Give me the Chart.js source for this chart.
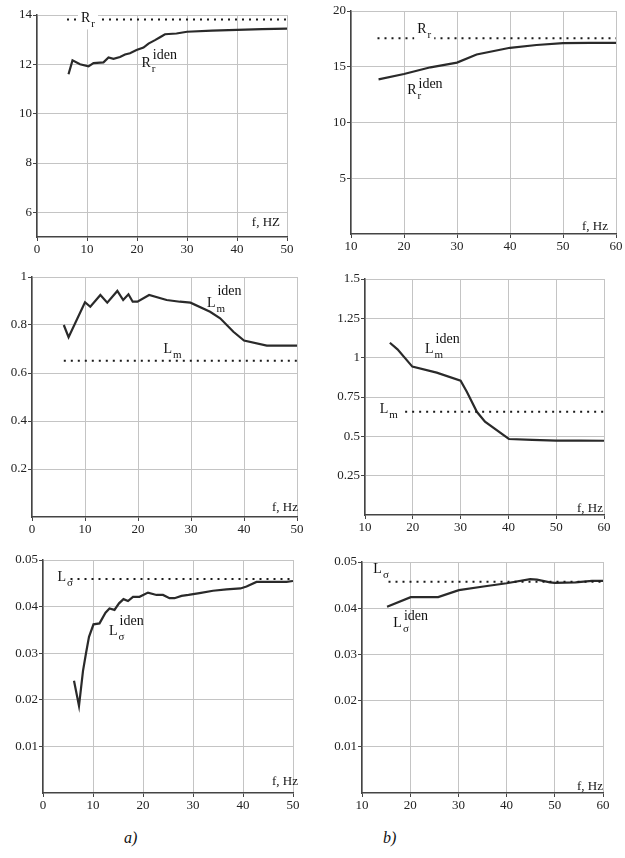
<!DOCTYPE html>
<html>
<head>
<meta charset="utf-8">
<script src="https://cdn.jsdelivr.net/npm/chart.js@4.4.0/dist/chart.umd.min.js"></script>
<style>
  html, body { margin: 0; padding: 0; background: #fff; overflow: hidden; }
  body { width: 625px; height: 858px; position: relative; }
  canvas { position: absolute; }
  .cap { position: absolute; font: italic 16px 'Liberation Serif', serif; color: #111; }
</style>
</head>
<body>
<canvas id="c1"></canvas>
<canvas id="c2"></canvas>
<canvas id="c3"></canvas>
<canvas id="c4"></canvas>
<canvas id="c5"></canvas>
<canvas id="c6"></canvas>
<div class="cap" style="left:124px; top:829px">a)</div>
<div class="cap" style="left:383px; top:829px">b)</div>
<script>
// ---- data ----
// a) R_r
const freqA_R = [6.3, 7.1, 8.6, 10.3, 11.3, 13.3, 14.3, 15.3, 16.6, 17.6, 18.6, 19.9, 21.3, 22.3, 23.6, 24.6, 25.6, 27.9, 30, 35, 40, 45, 50];
const rrIdenA = [11.6, 12.16, 12.0, 11.92, 12.05, 12.08, 12.28, 12.22, 12.3, 12.4, 12.45, 12.58, 12.68, 12.84, 12.98, 13.1, 13.22, 13.25, 13.32, 13.37, 13.4, 13.43, 13.45];
const rrRefA = 13.82;
// b) R_r
const freqB_R = [15.2, 20, 25, 30, 33.7, 40, 45, 50, 55, 60];
const rrIdenB = [13.87, 14.35, 14.95, 15.37, 16.1, 16.7, 16.95, 17.12, 17.15, 17.15];
const rrRefB = 17.55;
// a) L_m
const freqA_Lm = [6, 6.9, 10, 11, 12.9, 14.2, 16.1, 17.2, 18.2, 19, 19.9, 22.1, 25.4, 27.9, 29.9, 33.6, 35.5, 38, 40, 44.3, 50];
const lmIdenA = [0.80, 0.749, 0.895, 0.876, 0.925, 0.893, 0.942, 0.904, 0.928, 0.897, 0.897, 0.925, 0.904, 0.897, 0.893, 0.855, 0.828, 0.772, 0.735, 0.714, 0.714];
const lmRefA = 0.651;
// b) L_m
const freqB_Lm = [15.2, 16.8, 19.9, 25, 30, 31.3, 33.4, 35.1, 40.1, 45, 50, 55, 60];
const lmIdenB = [1.095, 1.053, 0.943, 0.905, 0.854, 0.784, 0.656, 0.593, 0.483, 0.477, 0.473, 0.473, 0.472];
const lmRefB = 0.656;
// a) L_sigma
const freqA_Ls = [6.2, 7.2, 8, 8.6, 9.2, 10.1, 11.3, 12.5, 13.3, 14.3, 15.2, 16.1, 17, 18, 19.3, 21, 22.7, 24, 25.3, 26.3, 27.7, 29.1, 31.3, 34, 36.7, 39.5, 40.7, 42.7, 48.7, 50];
const lsIdenA = [0.0241, 0.0187, 0.0262, 0.0300, 0.0335, 0.0362, 0.0364, 0.0387, 0.0396, 0.0393, 0.0407, 0.0416, 0.0412, 0.0421, 0.0421, 0.043, 0.0425, 0.0425, 0.0418, 0.0418, 0.0423, 0.0425, 0.0429, 0.0434, 0.0437, 0.0439, 0.0443, 0.0453, 0.0453, 0.0455];
const lsRefA = 0.0459;
// b) L_sigma
const freqB_Ls = [15.2, 20.1, 25.8, 30.1, 35.2, 40, 44.9, 46.3, 49, 50, 54.3, 57.7, 60];
const lsIdenB = [0.0403, 0.0424, 0.0424, 0.0439, 0.0447, 0.0454, 0.0463, 0.0462, 0.0456, 0.0455, 0.0456, 0.0459, 0.0459];
const lsRefB = 0.0457;

// tick labels
const xTicksA = [0, 10, 20, 30, 40, 50];
const xTicksB = [10, 20, 30, 40, 50, 60];
const yTicksRa = [6, 8, 10, 12, 14];
const yTicksRb = [5, 10, 15, 20];
const yTicksLmA = [0.2, 0.4, 0.6, 0.8, 1];
const yTicksLmB = [0.25, 0.5, 0.75, 1, 1.25, 1.5];
const yTicksLs = [0.01, 0.02, 0.03, 0.04, 0.05];

const AXIS_W = 30, AXIS_H = 22, PAD_T = 10, PAD_R = 12;
const SERIF = '"Liberation Serif", "Times New Roman", serif';

function pts(xs, ys) {
  return xs.map((x, i) => ({ x: x, y: ys[i] }));
}

// draws the curve names (base letter, subscript, superscript) and the f, Hz label
const notes = {
  id: 'notes',
  afterDatasetsDraw(chart, args, opts) {
    const ctx = chart.ctx, xs = chart.scales.x, ys = chart.scales.y;
    ctx.save();
    ctx.textBaseline = 'alphabetic';
    ctx.textAlign = 'left';
    (opts.items || []).forEach(it => {
      const px = xs.getPixelForValue(it.x), py = ys.getPixelForValue(it.y);
      ctx.font = '14px ' + SERIF;
      const bw = ctx.measureText(it.base).width;
      ctx.font = '11px ' + SERIF;
      const sw = ctx.measureText(it.sub).width;
      if (it.clear) {
        ctx.fillStyle = '#fff';
        ctx.fillRect(px - 3, py - 11, bw + sw + 7, 18);
      }
      ctx.fillStyle = '#111';
      ctx.font = '14px ' + SERIF;
      ctx.fillText(it.base, px, py);
      ctx.font = '11px ' + SERIF;
      ctx.fillText(it.sub, px + bw + 1, py + 5);
      if (it.sup) {
        ctx.font = '14px ' + SERIF;
        ctx.fillText(it.sup, px + bw + 2, py - (it.rise || 8));
      }
    });
    ctx.fillStyle = '#111';
    ctx.font = '13px ' + SERIF;
    ctx.textAlign = 'right';
    ctx.fillText(opts.unit, chart.chartArea.right + opts.unitDx, chart.chartArea.bottom - opts.unitDy);
    ctx.restore();
  }
};

function makePanel(id, box, xr, yr, xTicks, yTicks, iden, ref, notesOpts) {
  const canvas = document.getElementById(id);
  const w = box.right - box.left + AXIS_W + PAD_R;
  const h = box.bottom - box.top + PAD_T + AXIS_H;
  canvas.width = w;
  canvas.height = h;
  canvas.style.width = w + 'px';
  canvas.style.height = h + 'px';
  canvas.style.left = (box.left - AXIS_W) + 'px';
  canvas.style.top = (box.top - PAD_T) + 'px';

  const axisFont = { family: SERIF, size: 13 };
  new Chart(canvas, {
    type: 'line',
    data: {
      datasets: [
        {
          data: ref,
          borderColor: '#1a1a1a',
          borderWidth: 2,
          borderDash: [2, 5],
          pointRadius: 0,
          tension: 0
        },
        {
          data: iden,
          borderColor: '#2a2a2a',
          borderWidth: 2.2,
          pointRadius: 0,
          tension: 0
        }
      ]
    },
    options: {
      responsive: false,
      animation: false,
      devicePixelRatio: 1,
      layout: { padding: { left: 0, top: PAD_T, right: PAD_R, bottom: 0 } },
      plugins: {
        legend: { display: false },
        tooltip: { enabled: false },
        notes: notesOpts
      },
      scales: {
        x: {
          type: 'linear',
          min: xr[0],
          max: xr[1],
          afterBuildTicks: s => { s.ticks = xTicks.map(v => ({ value: v })); },
          afterFit: s => { s.height = AXIS_H; },
          grid: { color: '#c4c4c4', lineWidth: 1, tickColor: '#444', tickLength: 4 },
          border: { color: '#444', width: 1.5 },
          ticks: { font: axisFont, color: '#222', padding: 1, maxRotation: 0, autoSkip: false, callback: v => String(v) }
        },
        y: {
          type: 'linear',
          min: yr[0],
          max: yr[1],
          afterBuildTicks: s => { s.ticks = yTicks.map(v => ({ value: v })); },
          afterFit: s => { s.width = AXIS_W; },
          grid: { color: '#c4c4c4', lineWidth: 1, tickColor: '#444', tickLength: 4 },
          border: { color: '#444', width: 1.5 },
          ticks: { font: axisFont, color: '#222', padding: 1, autoSkip: false, callback: v => String(v) }
        }
      }
    },
    plugins: [notes]
  });
}

makePanel('c1', { left: 37, right: 287, top: 15, bottom: 237 }, [0, 50], [5, 14], xTicksA, yTicksRa,
  pts(freqA_R, rrIdenA), pts([6, 50], [rrRefA, rrRefA]),
  { items: [
      { x: 8.8, y: 13.70, base: 'R', sub: 'r', clear: true },
      { x: 20.9, y: 11.88, base: 'R', sub: 'r', sup: 'iden', rise: 8 }
    ], unit: 'f, HZ', unitDx: -7, unitDy: 11 });

makePanel('c2', { left: 351, right: 616, top: 11, bottom: 234 }, [10, 60], [0, 20], xTicksB, yTicksRb,
  pts(freqB_R, rrIdenB), pts([15, 60], [rrRefB, rrRefB]),
  { items: [
      { x: 22.5, y: 18.0, base: 'R', sub: 'r', clear: true },
      { x: 20.6, y: 12.53, base: 'R', sub: 'r', sup: 'iden', rise: 6 }
    ], unit: 'f, Hz', unitDx: -8, unitDy: 4 });

makePanel('c3', { left: 32, right: 297, top: 277, bottom: 517 }, [0, 50], [0, 1], xTicksA, yTicksLmA,
  pts(freqA_Lm, lmIdenA), pts([6, 50], [lmRefA, lmRefA]),
  { items: [
      { x: 24.8, y: 0.682, base: 'L', sub: 'm' },
      { x: 33.0, y: 0.876, base: 'L', sub: 'm', sup: 'iden', rise: 12 }
    ], unit: 'f, Hz', unitDx: 1, unitDy: 6 });

makePanel('c4', { left: 365, right: 604, top: 279, bottom: 515 }, [10, 60], [0, 1.5], xTicksB, yTicksLmB,
  pts(freqB_Lm, lmIdenB), pts([18.4, 60], [lmRefB, lmRefB]),
  { items: [
      { x: 13.1, y: 0.646, base: 'L', sub: 'm' },
      { x: 22.55, y: 1.028, base: 'L', sub: 'm', sup: 'iden', rise: 10 }
    ], unit: 'f, Hz', unitDx: -1, unitDy: 3 });

makePanel('c5', { left: 43, right: 293, top: 560, bottom: 793 }, [0, 50], [0, 0.05], xTicksA, yTicksLs,
  pts(freqA_Ls, lsIdenA), pts([5.5, 50], [lsRefA, lsRefA]),
  { items: [
      { x: 2.9, y: 0.04556, base: 'L', sub: 'σ' },
      { x: 13.2, y: 0.0339, base: 'L', sub: 'σ', sup: 'iden', rise: 10 }
    ], unit: 'f, Hz', unitDx: 5, unitDy: 8 });

makePanel('c6', { left: 362, right: 603, top: 562, bottom: 793 }, [10, 60], [0, 0.05], xTicksB, yTicksLs,
  pts(freqB_Ls, lsIdenB), pts([15.5, 60], [lsRefB, lsRefB]),
  { items: [
      { x: 12.35, y: 0.04755, base: 'L', sub: 'σ' },
      { x: 16.5, y: 0.036, base: 'L', sub: 'σ', sup: 'iden', rise: 7 }
    ], unit: 'f, Hz', unitDx: 0, unitDy: 3 });
</script>
</body>
</html>
